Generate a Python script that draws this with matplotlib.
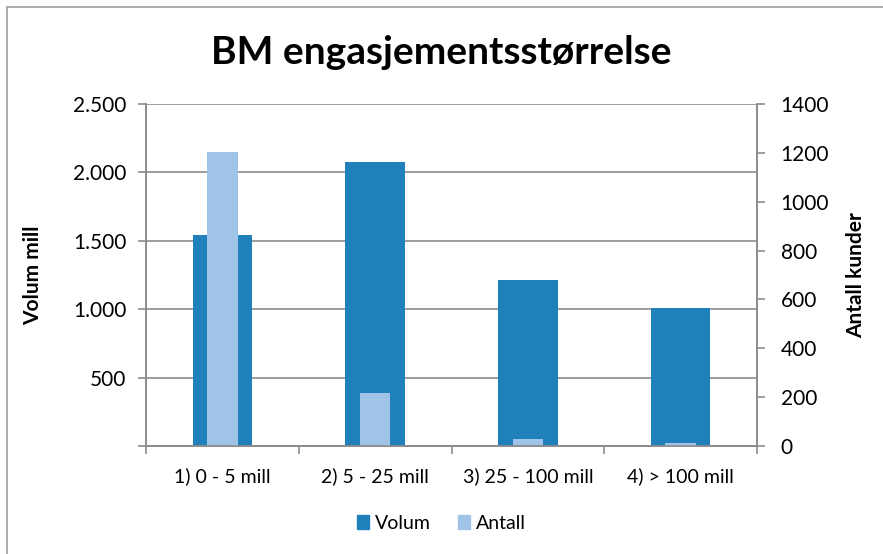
import matplotlib.pyplot as plt
import numpy as np
from matplotlib.patches import Rectangle

categories = ["1) 0 - 5 mill", "2) 5 - 25 mill", "3) 25 - 100 mill", "4) > 100 mill"]
volum = [1542, 2076, 1213, 1009]
antall = [1203, 217, 27, 12]

dark = "#2080BB"
light = "#9FC4E7"
grey = "#8C8C8C"

plt.rcParams['font.family'] = ['Lato', 'DejaVu Sans']

fig = plt.figure(figsize=(8.83, 5.54), dpi=100)
fig.patches.append(Rectangle((7/883, -0.1), 1.2, 1.1 - 7/554, transform=fig.transFigure,
                             fill=False, edgecolor="#A0A0A0", lw=1.2))
ax = fig.add_axes([146/883, 108/554, 611/883, 342/554])
ax2 = ax.twinx()

x = np.arange(len(categories))
ax.bar(x, volum, width=0.39, color=dark, zorder=2)
ax2.bar(x, antall, width=0.2, color=light, zorder=2)

ax.set_xlim(-0.5, 3.5)
ax.set_ylim(0, 2500)
ax2.set_ylim(0, 1400)
ax.set_yticks([0, 500, 1000, 1500, 2000, 2500])
ax.set_yticklabels(["", "500", "1.000", "1.500", "2.000", "2.500"])
ax2.set_yticks(range(0, 1401, 200))
ax.yaxis.grid(True, color=grey, lw=1.2, zorder=0)
ax.set_axisbelow(True)

ax.set_xticks(x)
ax.set_xticklabels(categories)
ax.set_xticks(np.arange(-0.5, 4, 1), minor=True)
ax.tick_params(axis='x', which='major', length=0, pad=15, labelsize=14)
ax.tick_params(axis='x', which='minor', length=6, color=grey, width=1.2, direction='out')
ax.tick_params(axis='y', length=6, color=grey, width=1.2, labelsize=15, pad=8)
ax2.tick_params(axis='y', length=6, color=grey, width=1.2, labelsize=15, pad=11)

for a in (ax, ax2):
    a.spines['top'].set_visible(False)
    for s in ('left', 'right', 'bottom'):
        a.spines[s].set_color(grey)
        a.spines[s].set_linewidth(1.2)

ax.set_ylabel("Volum mill", fontsize=15, fontweight='bold', labelpad=22)
ax2.set_ylabel("Antall kunder", fontsize=15, fontweight='bold', labelpad=12)
fig.text(0.5, 1 - 52/554, "BM engasjementsstørrelse", fontsize=28, fontweight='bold',
         ha='center', va='center')

h1 = plt.Rectangle((0, 0), 1, 1, color=dark)
h2 = plt.Rectangle((0, 0), 1, 1, color=light)
fig.legend([h1, h2], ["Volum", "Antall"], loc='center', bbox_to_anchor=(0.5, 0.055),
           ncol=2, frameon=False, fontsize=14, handlelength=0.6, handleheight=0.7,
           handletextpad=0.3, columnspacing=1.4)

fig.savefig("out.png", dpi=100)
